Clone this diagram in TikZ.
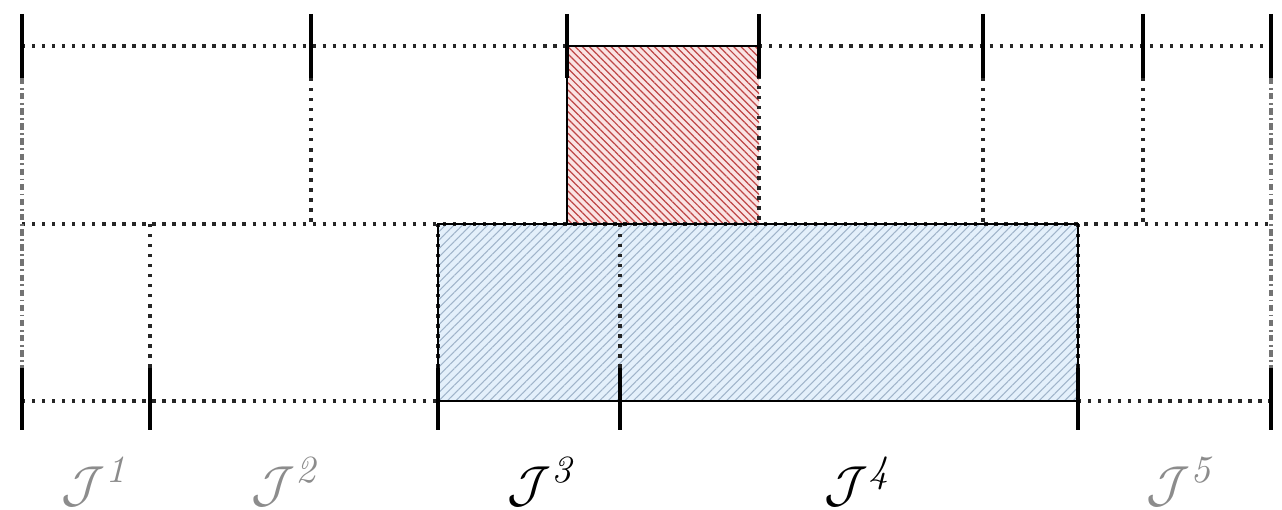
\documentclass[tikz,border=0pt]{standalone}
\usetikzlibrary{patterns.meta}
\definecolor{redfill}{RGB}{250,228,228}
\definecolor{redhatch}{RGB}{190,70,70}
\definecolor{bluefill}{RGB}{228,240,251}
\definecolor{bluehatch}{RGB}{160,180,202}
\begin{document}
\begin{tikzpicture}[x=0.01cm,y=-0.01cm,
  dotline/.style={line width=0.95pt,dash pattern=on 0.95pt off 1.9pt,black!85},
  dashdotline/.style={line width=0.9pt,dash pattern=on 1.8pt off 1pt on 0.5pt off 1pt,black!55},
  tick/.style={line width=1.2pt,black},
  lbl/.style={font=\fontsize{15}{17}\selectfont,inner sep=0pt},
  graylbl/.style={lbl,text=black!45}]
\useasboundingbox (0,0) rectangle (1282,510);
% red box
\fill[redfill] (567,46) rectangle (759,224);
\fill[pattern={Lines[angle=-45,distance=1.45pt,line width=0.35pt]},pattern color=redhatch] (567,46) rectangle (759,224);
% blue box
\fill[bluefill] (438,224) rectangle (1078,401);
\fill[pattern={Lines[angle=45,distance=1.7pt,line width=0.3pt]},pattern color=bluehatch] (438,224) rectangle (1078,401);
% coordinates
\foreach \n/\x in {a/22,b/311,c/567,d/759,e/983,f/1143,g/1271}{
  \coordinate (t\n) at (\x,46);
  \coordinate (m\n) at (\x,224);
}
\foreach \n/\x in {a/22,b/150,c/438,d/620,e/1078,f/1271}{
  \coordinate (b\n) at (\x,401);
  \coordinate (k\n) at (\x,224);
}
% horizontal dotted lines
\draw[dotline] (ta) -- (tc);
\draw[dotline] (td) -- (tg);
\draw[dotline] (ma) -- (mg);
\draw[dotline] (ba) -- (bc);
\draw[dotline] (be) -- (bf);
% vertical dotted lines
\foreach \n in {b,e,f}{\draw[dotline] ([yshift=-0.32cm]t\n) -- (m\n);}
\foreach \n in {b,d}{\draw[dotline] (k\n) -- ([yshift=0.33cm]b\n);}
\draw[dotline] (td) -- (md);
\draw[dotline] (kc) -- (bc);
\draw[dotline] (ke) -- (be);
% dash-dot edges
\draw[dashdotline] (22,78) -- (22,368);
\draw[dashdotline] (1271,78) -- (1271,368);
% box borders
\draw[line width=0.6pt] (mc) -- (tc) -- (td);
\draw[line width=0.6pt] (kc) rectangle (be);
% ticks
\foreach \x in {22,311,567,759,983,1143,1271}{\draw[tick] (\x,14) -- (\x,78);}
\foreach \x in {22,150,438,620,1078,1271}{\draw[tick] (\x,368) -- (\x,430);}
% labels
\node[graylbl] (j1) at (97,482) {$\mathcal{J}^{\mathit{1}}$};
\node[graylbl] (j2) at (287,482) {$\mathcal{J}^{\mathit{2}}$};
\node[lbl] (j3) at (543,482) {$\mathcal{J}^{\mathit{3}}$};
\node[lbl] (j4) at (860,482) {$\mathcal{J}^{\mathit{4}}$};
\node[graylbl] (j5) at (1182,482) {$\mathcal{J}^{\mathit{5}}$};
\end{tikzpicture}
\end{document}
